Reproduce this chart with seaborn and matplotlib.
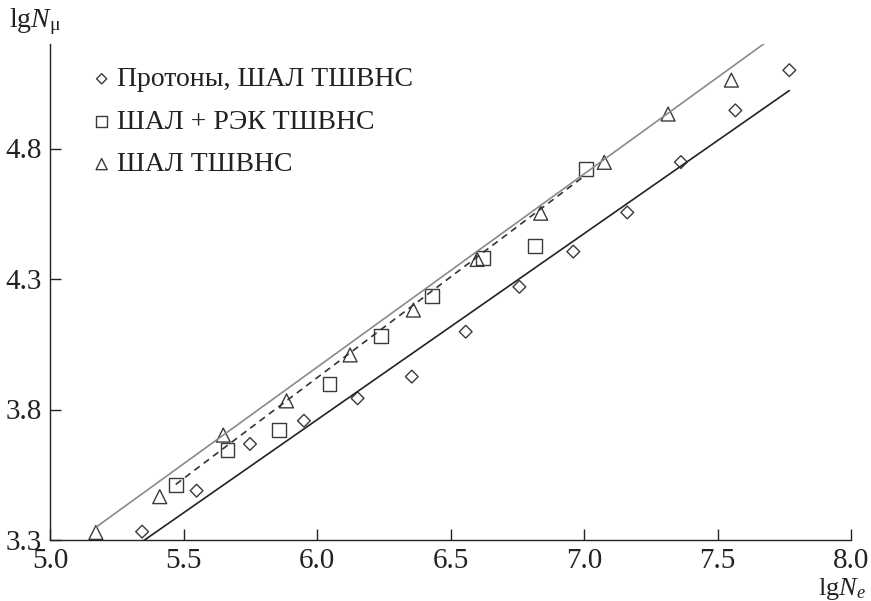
import matplotlib
matplotlib.use("Agg")
import matplotlib.pyplot as plt
import seaborn as sns

# Data
proton_x = [5.345, 5.549, 5.749, 5.951, 6.152, 6.355, 6.557, 6.758, 6.960, 7.162, 7.363, 7.567, 7.769]
proton_y = [3.332, 3.489, 3.668, 3.757, 3.843, 3.926, 4.098, 4.270, 4.405, 4.555, 4.748, 4.946, 5.100]

rek_x = [5.472, 5.665, 5.857, 6.047, 6.240, 6.431, 6.623, 6.816, 7.006]
rek_y = [3.511, 3.645, 3.721, 3.897, 4.082, 4.235, 4.382, 4.426, 4.720]

eas_x = [5.172, 5.411, 5.649, 5.886, 6.124, 6.361, 6.600, 6.838, 7.076, 7.315, 7.552]
eas_y = [3.329, 3.466, 3.702, 3.833, 4.009, 4.181, 4.375, 4.552, 4.747, 4.932, 5.062]

# fitted lines (end points)
fit_eas_x = [5.175, 7.679]
fit_eas_y = [3.351, 5.205]
fit_rek_x = [5.471, 6.998]
fit_rek_y = [3.513, 4.692]
fit_proton_x = [5.350, 7.769]
fit_proton_y = [3.297, 5.022]

labels = ["Протоны, ШАЛ ТШВНС", "ШАЛ + РЭК ТШВНС", "ШАЛ ТШВНС"]
xticks = [5.0, 5.5, 6.0, 6.5, 7.0, 7.5, 8.0]
yticks = [3.3, 3.8, 4.3, 4.8]

sns.set_style("ticks")
plt.rcParams['font.family'] = ['Liberation Serif', 'DejaVu Serif']
plt.rcParams['mathtext.fontset'] = 'custom'
plt.rcParams['mathtext.rm'] = 'Liberation Serif'
plt.rcParams['mathtext.it'] = 'Liberation Serif:italic'

fig = plt.figure(figsize=(8.71, 6.01), dpi=100)
ax = fig.add_axes([50/871, 61/601, 801/871, (540-44.1)/601])

sns.lineplot(x=fit_eas_x, y=fit_eas_y, ax=ax, color="#8a8a8a", lw=1.2, legend=False)
sns.lineplot(x=fit_rek_x, y=fit_rek_y, ax=ax, color="#333333", lw=1.2, linestyle=(0, (4, 3)), legend=False)
sns.lineplot(x=fit_proton_x, y=fit_proton_y, ax=ax, color="#222222", lw=1.2, legend=False)

edge = "#3a3a3a"
sns.scatterplot(x=proton_x, y=proton_y, ax=ax, marker="D", s=6.5**2, facecolor="none",
                edgecolor=edge, linewidth=1.0, label=labels[0])
sns.scatterplot(x=rek_x, y=rek_y, ax=ax, marker="s", s=10**2, facecolor="none",
                edgecolor=edge, linewidth=1.0, label=labels[1])
sns.scatterplot(x=eas_x, y=eas_y, ax=ax, marker="^", s=10**2, facecolor="none",
                edgecolor=edge, linewidth=1.0, label=labels[2])

ax.set_xlim(5.0, 8.0)
ax.set_ylim(3.3, 5.2)
ax.set_xticks(xticks)
ax.set_yticks(yticks)
ax.set_xticklabels([f"{v:.1f}" for v in xticks])
ax.set_yticklabels([f"{v:.1f}" for v in yticks])
ax.tick_params(direction="in", length=8, width=1.0, labelsize=21, color="#222222",
               labelcolor="#222222", pad=6)
for s in ["top", "right"]:
    ax.spines[s].set_visible(False)
for s in ["left", "bottom"]:
    ax.spines[s].set_color("#222222")
    ax.spines[s].set_linewidth(1.0)
ax.set_xlabel("")
ax.set_ylabel("")

leg = ax.legend(loc="upper left", bbox_to_anchor=(0.035, 0.977), frameon=False,
                fontsize=20, handletextpad=0.1, labelspacing=0.62, markerscale=0.8,
                handlelength=0.9, borderaxespad=0)
for t in leg.get_texts():
    t.set_color("#222222")

fig.text(9/871, 1 - 22/601, "lg$\\mathit{N}_{\\mathrm{μ}}$", fontsize=20, color="#222222",
         va="center", ha="left")
fig.text(866/871, 1 - 589/601, r"lg$\mathit{N}_{e}$", fontsize=19, color="#222222",
         va="center", ha="right")

fig.savefig("out.png", dpi=100)
